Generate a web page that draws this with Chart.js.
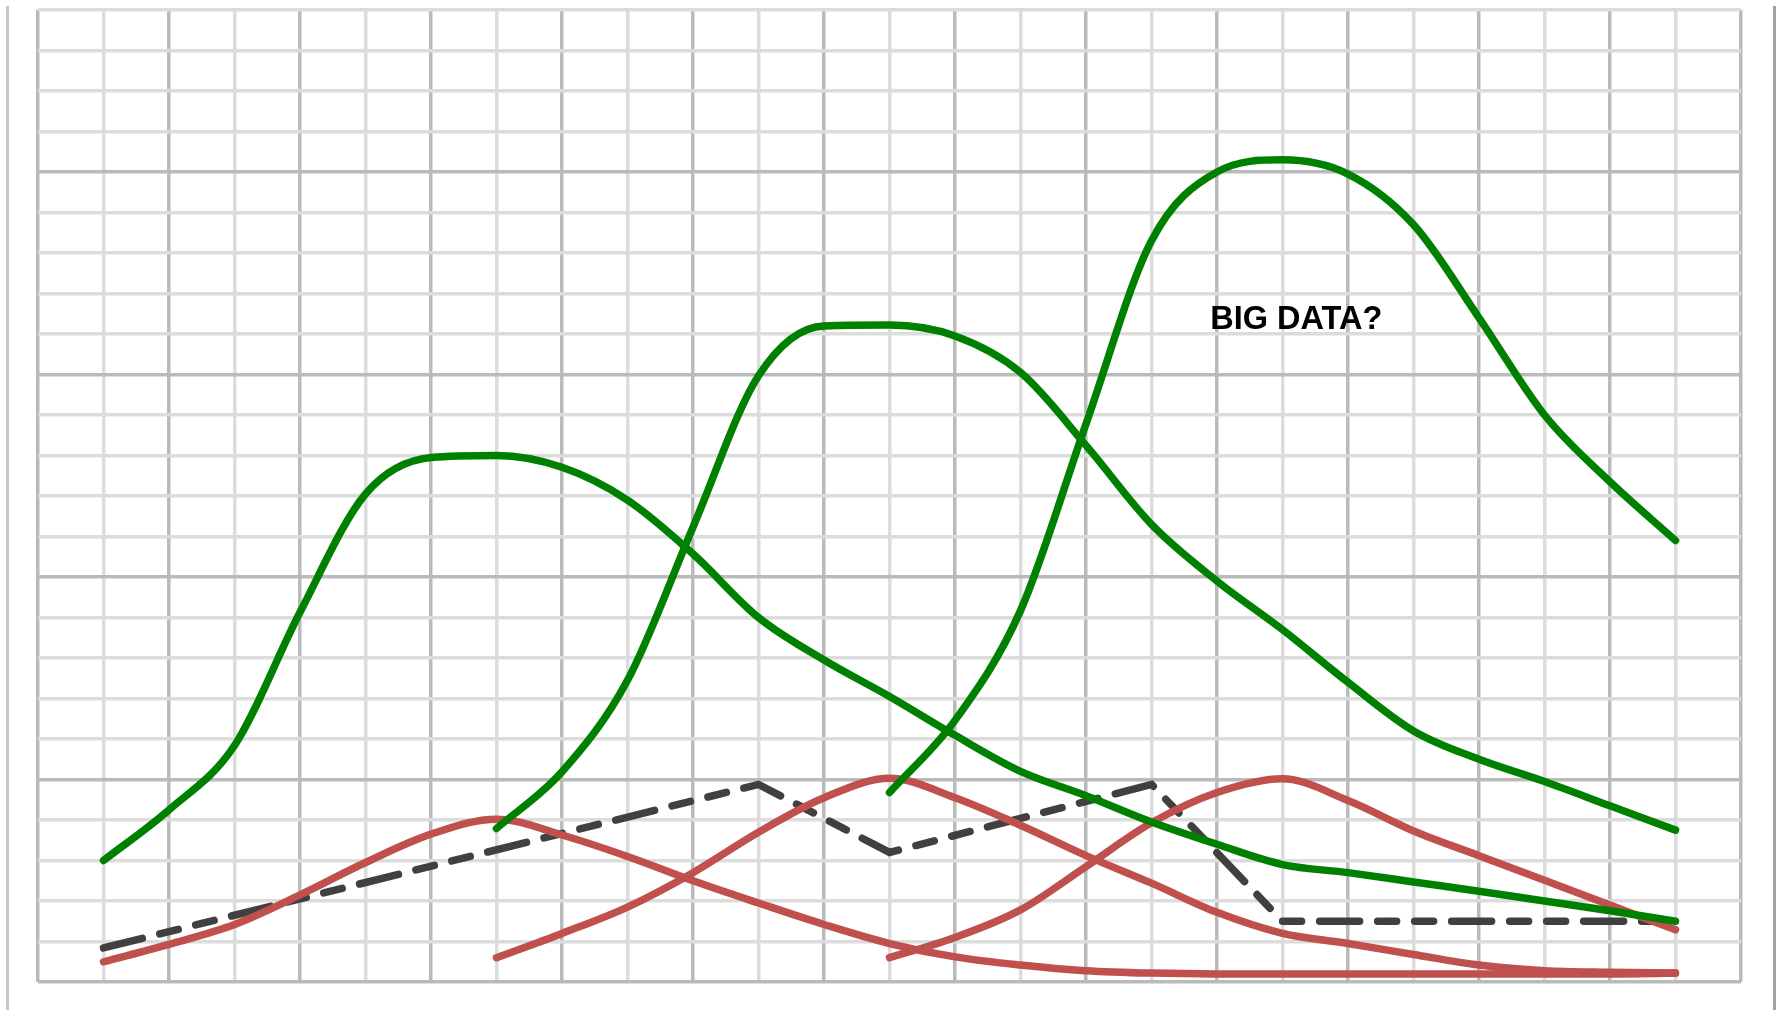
<!DOCTYPE html>
<html>
<head>
<meta charset="utf-8">
<title>Big data?</title>
<script src="https://cdn.jsdelivr.net/npm/chart.js@4.4.1/dist/chart.umd.min.js"></script>
<style>
  html, body { margin: 0; padding: 0; background: #fff; overflow: hidden; }
  #frame {
    position: absolute; left: 6px; top: 6px; width: 1764px; height: 1010px;
    border-left: 3px solid #c6c6c6; border-right: 3px solid #a2a2a2;
  }
  #wrap { position: absolute; left: 0; top: 0; width: 1777px; height: 1010px; }
</style>
</head>
<body>
<div id="frame"></div>
<div id="wrap"><canvas id="chart"></canvas></div>
<script>
// x positions (grid units)
let xFrom1 = [1, 2, 3, 4, 5, 6, 7, 8, 9, 10, 11, 12, 13, 14, 15, 16, 17, 18, 19, 20, 21, 22, 23, 24, 25];
let xFrom7 = [7, 8, 9, 10, 11, 12, 13, 14, 15, 16, 17, 18, 19, 20, 21, 22, 23, 24, 25];
let xFrom13 = [13, 14, 15, 16, 17, 18, 19, 20, 21, 22, 23, 24, 25];

// green curves
let green1 = [3.0, 4.25, 5.84, 9.13, 12.05, 12.95, 13.0, 12.71, 11.9, 10.57, 9.0, 7.95, 7.05, 6.09, 5.2, 4.6, 3.95, 3.4, 2.9, 2.7, 2.47, 2.24, 2.0, 1.76, 1.5];
let green2 = [3.79, 5.19, 7.45, 11.23, 14.97, 16.2, 16.22, 15.95, 15.05, 13.25, 11.3, 9.9, 8.7, 7.4, 6.2, 5.5, 4.95, 4.35, 3.75];
let green3 = [4.68, 6.46, 9.17, 13.78, 18.3, 20.0, 20.3, 19.95, 18.7, 16.4, 14.0, 12.35, 10.9];

// red curves
let red1 = [0.5, 0.93, 1.42, 2.15, 2.95, 3.65, 4.02, 3.63, 3.1, 2.5, 1.95, 1.42, 0.95, 0.62, 0.42, 0.28, 0.22, 0.2, 0.2, 0.2, 0.2, 0.2, 0.2, 0.2, 0.22];
let red2 = [0.6, 1.2, 1.85, 2.7, 3.7, 4.55, 5.03, 4.55, 3.87, 3.12, 2.44, 1.72, 1.2, 0.95, 0.68, 0.42, 0.28, 0.24, 0.22];
let red3 = [0.6, 1.1, 1.78, 2.85, 3.93, 4.68, 5.02, 4.48, 3.73, 3.12, 2.51, 1.9, 1.29];

// dashed polyline
let dashX = [1, 11, 13, 17, 19, 25];
let dashY = [0.84, 4.88, 3.2, 4.88, 1.5, 1.5];

// annotation
let noteText = "BIG DATA?";
let noteX = 19.21;
let noteY = 16.13;

let GREEN = "#008000";
let RED = "#c0504d";
let DARK = "#404040";

function pts(xs, ys) {
  return xs.map((x, i) => ({ x: x, y: ys[i] }));
}

function curve(xs, ys, color) {
  return {
    data: pts(xs, ys),
    borderColor: color,
    borderWidth: 7.5,
    borderCapStyle: "round",
    borderJoinStyle: "round",
    cubicInterpolationMode: "monotone",
    pointRadius: 0,
    fill: false,
  };
}

let datasets = [
  curve(xFrom1, green1, GREEN),
  curve(xFrom7, green2, GREEN),
  curve(xFrom13, green3, GREEN),
  curve(xFrom1, red1, RED),
  curve(xFrom7, red2, RED),
  curve(xFrom13, red3, RED),
  {
    data: pts(dashX, dashY),
    borderColor: DARK,
    borderWidth: 7.5,
    // long, short, short
    borderDash: [40, 18, 19, 18, 19, 18],
    borderCapStyle: "round",
    tension: 0,
    pointRadius: 0,
    fill: false,
  },
];

//---------------------------------------------
// text label on the chart
//---------------------------------------------
let notePlugin = {
  id: "note",
  afterDatasetsDraw(chart) {
    let ctx = chart.ctx;
    let px = chart.scales.x.getPixelForValue(noteX);
    let py = chart.scales.y.getPixelForValue(noteY);
    ctx.save();
    ctx.font = "bold 32.5px 'Liberation Sans', Arial, sans-serif";
    ctx.fillStyle = "#000";
    ctx.textAlign = "center";
    ctx.textBaseline = "alphabetic";
    ctx.fillText(noteText, px, py);
    ctx.restore();
  },
};

function gridColor(every) {
  return (c) => (c.tick && c.tick.value % every === 0 ? "#bababa" : "#dcdcdc");
}

new Chart(document.querySelector("#chart"), {
  type: "line",
  data: { datasets: datasets },
  plugins: [notePlugin],
  options: {
    responsive: true,
    maintainAspectRatio: false,
    animation: false,
    layout: { padding: { left: 38, top: 10, right: 36, bottom: 28 } },
    plugins: { legend: { display: false }, tooltip: { enabled: false } },
    scales: {
      x: {
        type: "linear",
        min: 0,
        max: 26,
        ticks: { display: false, stepSize: 1, autoSkip: false },
        grid: { color: gridColor(2), lineWidth: 3.5, drawTicks: false },
        border: { display: false },
      },
      y: {
        type: "linear",
        min: 0,
        max: 24,
        ticks: { display: false, stepSize: 1, autoSkip: false },
        grid: { color: gridColor(5), lineWidth: 3.5, drawTicks: false },
        border: { display: false },
      },
    },
  },
});
</script>
</body>
</html>
